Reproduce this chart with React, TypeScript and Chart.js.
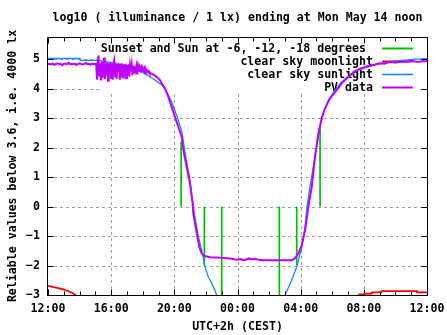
import React, { useEffect, useRef } from "react";
import { Chart, registerables } from "chart.js";

Chart.register(...registerables);

const W = 447;
const H = 335;

const titleText = "log10 ( illuminance / 1 lx) ending at Mon May 14 noon";
const yAxisTitle = "Reliable values below 3.6, i.e. 4000 lx";
const xAxisTitle = "UTC+2h (CEST)";

// x = hours since Sunday 12:00 (CEST)
const xTickHours = [0, 4, 8, 12, 16, 20, 24];
const xTickLabels = ["12:00", "16:00", "20:00", "00:00", "04:00", "08:00", "12:00"];
const yTickValues = [-3, -2, -1, 0, 1, 2, 3, 4, 5];
const xMin = 0;
const xMax = 24;
const yMin = -3;
const yMax = 5.75;

const legendLabels = [
  "Sunset and Sun at -6, -12, -18 degrees ",
  "clear sky moonlight",
  "clear sky sunlight",
  "PV data",
];
const seriesColors = ["#00c000", "#ff0000", "#1188ff", "#c000ff"];

// Sunset / twilight markers
const sunEventHours = [8.43, 9.9, 11.0, 14.65, 15.75, 17.23];
const sunEventLevels = [2.2, -2, -3, -3, -2, 2.7];

// clear sky moonlight
const moonEvening: [number, number][] = [
  [0, -2.69], [0.45, -2.74], [0.9, -2.8], [1.35, -2.88], [1.75, -2.99],
];
const moonMorning: [number, number][] = [
  [19.65, -2.98], [20.08, -2.98], [20.08, -2.95], [20.5, -2.95], [20.5, -2.91],
  [21.13, -2.91], [21.13, -2.87], [23.37, -2.87], [23.37, -2.91], [24, -2.91],
];

// clear sky sunlight
const sunEvening: [number, number][] = [
  [0, 5.02], [2.03, 5.02], [2.03, 4.96], [3.1, 4.96], [3.6, 4.92], [4.0, 4.88],
  [4.43, 4.82], [5.0, 4.75], [5.5, 4.66], [6.0, 4.54], [6.46, 4.4], [6.88, 4.25],
  [7.2, 4.12], [7.41, 4.0], [7.62, 3.78], [7.83, 3.55], [8.04, 3.25], [8.25, 2.93],
  [8.47, 2.55], [8.6, 2.12], [8.78, 1.5], [8.96, 1.0], [9.2, 0.0], [9.52, -1.02],
  [9.73, -1.47], [9.94, -2.04], [10.15, -2.38], [10.47, -2.72], [10.68, -3.0],
];
const sunMorning: [number, number][] = [
  [15.01, -3.0], [15.43, -2.5], [15.75, -2.04], [15.92, -1.7], [16.07, -1.36],
  [16.28, -0.68], [16.4, 0.0], [16.59, 0.67], [16.8, 1.35], [17.02, 2.03],
  [17.23, 2.7], [17.43, 3.16], [17.75, 3.61], [18.18, 3.95], [18.6, 4.23],
  [19.13, 4.46], [19.65, 4.63], [20.6, 4.8], [21.87, 4.93], [23.35, 5.0], [24, 5.02],
];

// PV data
const pvAfternoon: [number, number][] = [
  [0, 4.83], [0.1, 4.84], [0.2, 4.82], [0.3, 4.85], [0.4, 4.8], [0.5, 4.84],
  [0.6, 4.86], [0.7, 4.83], [0.8, 4.84], [0.9, 4.79], [1.0, 4.84], [1.1, 4.85],
  [1.2, 4.83], [1.3, 4.88], [1.4, 4.82], [1.5, 4.84], [1.6, 4.83], [1.7, 4.85],
  [1.8, 4.8], [1.9, 4.84], [2.0, 4.86], [2.1, 4.83], [2.2, 4.82], [2.3, 4.84],
  [2.4, 4.87], [2.5, 4.83], [2.6, 4.84], [2.7, 4.81], [2.8, 4.85], [2.9, 4.83],
  [3.0, 4.84],
];
const pvClouds: [number, number][] = [
  [3.05, 4.85], [3.1, 4.3], [3.15, 4.88], [3.2, 5.12], [3.25, 4.4], [3.3, 4.86],
  [3.35, 4.28], [3.4, 4.9], [3.45, 4.35], [3.5, 4.87], [3.55, 5.05], [3.6, 4.32],
  [3.65, 4.84], [3.7, 4.45], [3.75, 4.89], [3.8, 4.27], [3.85, 4.86], [3.9, 4.5],
  [3.95, 4.88], [4.0, 4.36], [4.05, 4.85], [4.1, 4.3], [4.15, 4.87], [4.2, 4.98],
  [4.25, 4.42], [4.3, 4.84], [4.35, 4.33], [4.4, 4.86], [4.45, 4.55], [4.5, 4.85],
  [4.55, 4.3], [4.6, 4.83], [4.65, 4.6], [4.7, 4.86], [4.75, 4.38], [4.8, 4.82],
  [4.85, 4.47], [4.9, 4.84], [4.95, 4.35], [5.0, 4.8], [5.05, 4.52], [5.1, 4.82],
  [5.15, 4.4], [5.2, 4.79], [5.25, 4.6], [5.3, 4.81], [5.35, 4.45], [5.4, 4.78],
  [5.45, 4.55], [5.5, 4.77], [5.55, 4.62], [5.6, 4.76], [5.65, 4.48], [5.7, 4.75],
  [5.75, 4.58], [5.8, 4.74], [5.85, 4.65], [5.9, 4.72], [5.95, 4.55], [6.0, 4.7],
  [6.05, 4.62], [6.1, 4.68], [6.15, 4.52], [6.2, 4.66], [6.25, 4.6], [6.3, 4.62],
  [6.35, 4.55], [6.4, 4.58], [6.45, 4.52],
];
const pvDusk: [number, number][] = [
  [6.6, 4.5], [6.88, 4.4], [7.09, 4.29], [7.2, 4.18], [7.41, 4.0], [7.62, 3.72],
  [7.83, 3.38], [8.04, 3.04], [8.25, 2.71], [8.47, 2.37], [8.57, 1.92], [8.78, 1.35],
  [8.99, 0.79], [9.16, 0.11], [9.2, -0.23], [9.42, -0.91], [9.58, -1.36], [9.73, -1.59],
  [9.94, -1.68], [10.26, -1.72], [11.0, -1.74], [11.53, -1.76], [11.95, -1.8],
];
const pvNight: [number, number][] = [
  [12.2, -1.78], [12.35, -1.82], [12.5, -1.81], [12.7, -1.76], [12.9, -1.79],
  [13.1, -1.77], [13.3, -1.8], [13.55, -1.82], [14.27, -1.82], [15.0, -1.82], [15.43, -1.82],
];
const pvDawn: [number, number][] = [
  [15.64, -1.76], [15.85, -1.59], [16.07, -1.31], [16.28, -0.8], [16.49, 0.0],
  [16.7, 0.67], [16.91, 1.69], [17.12, 2.48], [17.33, 2.99], [17.54, 3.33],
  [17.86, 3.67], [18.28, 3.95], [18.6, 4.18], [19.02, 4.4], [19.4, 4.58], [19.76, 4.68],
];
const pvMorning: [number, number][] = [
  [20.2, 4.76], [20.6, 4.8], [21.0, 4.86], [21.3, 4.84], [21.66, 4.91], [22.0, 4.88],
  [22.3, 4.92], [22.72, 4.91], [23.0, 4.94], [23.4, 4.9], [23.7, 4.93], [24.0, 4.93],
];

const FONT = "'DejaVu Sans Mono', 'Liberation Mono', monospace";
const FONT_SIZE = 11.6;

const toPts = (arr: [number, number][]) => arr.map(([x, y]) => ({ x, y }));
const gap = (x: number) => ({ x, y: null as any });

export default function App() {
  const ref = useRef<HTMLCanvasElement>(null);

  useEffect(() => {
    const canvas = ref.current!;

    const greenData: any[] = [];
    sunEventHours.forEach((t, i) => {
      greenData.push({ x: t, y: 0 }, { x: t, y: sunEventLevels[i] }, gap(t));
    });

    const redData = [...toPts(moonEvening), gap(10), ...toPts(moonMorning)];
    const blueData = [...toPts(sunEvening), gap(12), ...toPts(sunMorning)];
    const purpleData = toPts([...pvAfternoon, ...pvClouds, ...pvDusk, ...pvNight, ...pvDawn, ...pvMorning]);

    const keyBox = { x1: 100, y1: 38, x2: 418, y2: 92 };

    const framePlugin = {
      id: "gnuplotFrame",
      beforeDatasetsDraw(chart: any) {
        const { ctx, chartArea, scales } = chart;
        const xs = scales.x;
        const ys = scales.y;
        ctx.save();
        ctx.strokeStyle = "#a0a0a0";
        ctx.lineWidth = 1;
        ctx.setLineDash([3, 3]);
        ctx.beginPath();
        yTickValues.forEach((v) => {
          if (v === yMin) return;
          const y = Math.round(ys.getPixelForValue(v)) + 0.5;
          ctx.moveTo(chartArea.left, y);
          ctx.lineTo(chartArea.right, y);
        });
        xTickHours.forEach((h) => {
          if (h === xMin || h === xMax) return;
          const x = Math.round(xs.getPixelForValue(h)) + 0.5;
          ctx.moveTo(x, chartArea.bottom);
          ctx.lineTo(x, chartArea.top);
        });
        ctx.stroke();
        ctx.setLineDash([]);
        ctx.fillStyle = "#ffffff";
        ctx.fillRect(keyBox.x1, keyBox.y1, keyBox.x2 - keyBox.x1, keyBox.y2 - keyBox.y1);
        ctx.font = `bold ${FONT_SIZE}px ${FONT}`;
        ctx.textAlign = "right";
        ctx.textBaseline = "middle";
        ctx.fillStyle = "#000";
        const rowY = [48, 61, 74, 87];
        legendLabels.forEach((lab, i) => {
          ctx.fillText(lab, 373, rowY[i] + 0.5);
          ctx.strokeStyle = seriesColors[i];
          ctx.lineWidth = i === 2 ? 1.5 : 2;
          ctx.beginPath();
          ctx.moveTo(382, rowY[i] + 0.5);
          ctx.lineTo(413, rowY[i] + 0.5);
          ctx.stroke();
        });
        ctx.restore();
      },
      afterDatasetsDraw(chart: any) {
        const { ctx, chartArea, scales } = chart;
        const xs = scales.x;
        const ys = scales.y;
        const L = chartArea.left - 0.5;
        const R = chartArea.right + 0.5;
        const T = chartArea.top + 0.5;
        const B = chartArea.bottom + 0.5;
        ctx.save();
        ctx.strokeStyle = "#000";
        ctx.lineWidth = 1;
        ctx.beginPath();
        ctx.rect(L, T, R - L, B - T);
        for (let h = xMin; h <= xMax; h += 1) {
          const x = Math.round(xs.getPixelForValue(h)) + 0.5;
          const len = h % 4 === 0 ? 6 : 4;
          ctx.moveTo(x, B);
          ctx.lineTo(x, B - len);
          ctx.moveTo(x, T);
          ctx.lineTo(x, T + len);
        }
        yTickValues.forEach((v) => {
          const y = Math.round(ys.getPixelForValue(v)) + 0.5;
          ctx.moveTo(L, y);
          ctx.lineTo(L + 6, y);
          ctx.moveTo(R, y);
          ctx.lineTo(R - 6, y);
        });
        ctx.stroke();

        ctx.fillStyle = "#000";
        ctx.font = `bold ${FONT_SIZE}px ${FONT}`;
        ctx.textAlign = "center";
        ctx.textBaseline = "middle";
        ctx.fillText(titleText, (chartArea.left + chartArea.right) / 2, 17.5);
        ctx.fillText(xAxisTitle, (chartArea.left + chartArea.right) / 2, 327);
        ctx.translate(13, (chartArea.top + chartArea.bottom) / 2);
        ctx.rotate(-Math.PI / 2);
        ctx.fillText(yAxisTitle, 0, 0);
        ctx.restore();
      },
    };

    const tickFont = { family: FONT, size: FONT_SIZE, weight: "bold" as const };

    const chart = new Chart(canvas, {
      type: "line",
      data: {
        datasets: [
          {
            label: legendLabels[3],
            data: purpleData,
            borderColor: seriesColors[3],
            borderWidth: 2,
            pointRadius: 0,
            tension: 0,
            order: 0,
          },
          {
            label: legendLabels[2],
            data: blueData,
            borderColor: seriesColors[2],
            borderWidth: 1.3,
            pointRadius: 0,
            tension: 0,
            spanGaps: false,
            order: 1,
          },
          {
            label: legendLabels[1],
            data: redData,
            borderColor: seriesColors[1],
            borderWidth: 1.7,
            pointRadius: 0,
            tension: 0,
            spanGaps: false,
            order: 2,
          },
          {
            label: legendLabels[0],
            data: greenData,
            borderColor: seriesColors[0],
            borderWidth: 1.7,
            pointRadius: 0,
            tension: 0,
            spanGaps: false,
            order: 3,
          },
        ],
      },
      options: {
        responsive: false,
        animation: false,
        devicePixelRatio: 1,
        layout: { padding: { left: 0, right: W - 427, top: 37, bottom: 0 } },
        plugins: {
          legend: { display: false },
          title: { display: false },
          tooltip: { enabled: false },
        },
        scales: {
          x: {
            type: "linear",
            min: xMin,
            max: xMax,
            grid: { display: false, drawTicks: false },
            border: { display: false },
            afterBuildTicks: (scale: any) => {
              scale.ticks = xTickHours.map((v) => ({ value: v }));
            },
            afterFit: (scale: any) => {
              scale.height = H - 295;
              scale.paddingLeft = 0;
              scale.paddingRight = 0;
            },
            ticks: {
              autoSkip: false,
              maxRotation: 0,
              minRotation: 0,
              padding: 7,
              color: "#000",
              font: tickFont,
              callback: (v: any) => {
                const i = xTickHours.indexOf(Number(v));
                return i >= 0 ? xTickLabels[i] : "";
              },
            },
          },
          y: {
            type: "linear",
            min: yMin,
            max: yMax,
            grid: { display: false, drawTicks: false },
            border: { display: false },
            afterBuildTicks: (scale: any) => {
              scale.ticks = yTickValues.map((v) => ({ value: v }));
            },
            afterFit: (scale: any) => {
              scale.width = 48;
              scale.paddingTop = 0;
              scale.paddingBottom = 0;
            },
            ticks: {
              padding: 8,
              color: "#000",
              font: tickFont,
              callback: (v: any) => String(v).replace("-", "\u2212"),
            },
          },
        },
      },
      plugins: [framePlugin],
    });

    return () => chart.destroy();
  }, []);

  return (
    <div style={{ position: "fixed", left: 0, top: 0, width: W, height: H, background: "#fff" }}>
      <canvas ref={ref} width={W} height={H} style={{ width: W, height: H, display: "block" }} />
    </div>
  );
}
